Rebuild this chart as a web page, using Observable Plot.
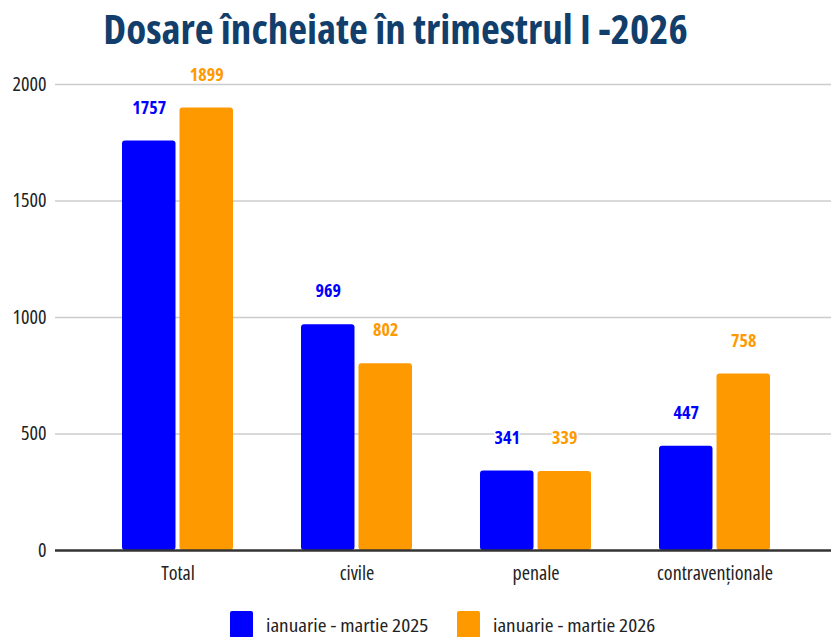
<!DOCTYPE html>
<html>
<head>
<meta charset="utf-8">
<script src="https://cdn.jsdelivr.net/npm/d3@7"></script>
<script src="https://cdn.jsdelivr.net/npm/@observablehq/plot@0.6"></script>
<style>
  html, body { margin: 0; padding: 0; background: #fff; }
  body { width: 831px; height: 637px; overflow: hidden; font-family: "Open Sans", sans-serif; }
  #title { height: 60px; line-height: 56px; text-align: center; font-size: 41px; font-weight: 700; color: #123e6b; padding-right: 40px; box-sizing: border-box; font-stretch: 75%; }
  svg text { font-stretch: 75%; }
  #legend { display: flex; justify-content: flex-start; margin-top: 21px; padding-left: 230px; font-stretch: 75%; }
  .item { display: flex; align-items: center; font-size: 18px; color: #222; }
  .item:first-child { width: 227px; }
  .sw { width: 23px; height: 27px; border-radius: 2px; margin-right: 13px; flex: none; }
  .item span { display: inline-block; transform: scaleX(1.18); transform-origin: left center; white-space: nowrap; }
</style>
</head>
<body>
<div id="title">Dosare încheiate în trimestrul I -2026</div>
<div id="chart"></div>
<div id="legend"></div>
<script>
const categories = ["Total", "civile", "penale", "contravenționale"];
const series = ["ianuarie - martie 2025", "ianuarie - martie 2026"];
const values2025 = [1757, 969, 341, 447];
const values2026 = [1899, 802, 339, 758];
const colors = ["#0000ff", "#ff9900"];
const yTicks = [0, 500, 1000, 1500, 2000];

const W = 831, ML = 55, MR = 0, PI = 0.38, PO = 0.357, AL = 0.52, GAP = 4;
const bw = d3.scaleBand(categories, [ML, W - MR]).paddingInner(PI).paddingOuter(PO).align(AL).bandwidth();
const half = bw / 2 + GAP / 2;

const d2025 = categories.map((c, i) => ({cat: c, value: values2025[i]}));
const d2026 = categories.map((c, i) => ({cat: c, value: values2026[i]}));

const labelStyle = {fontWeight: "bold", fontSize: 18, stroke: "white", strokeWidth: 3, paintOrder: "stroke", dy: -33};

const chart = Plot.plot({
  width: W,
  height: 530,
  marginLeft: ML,
  marginRight: MR,
  marginTop: 24,
  marginBottom: 40,
  style: {fontFamily: "'Open Sans', sans-serif", fontSize: "20px", color: "#222", background: "white"},
  x: {domain: categories, paddingInner: PI, paddingOuter: PO, align: AL, label: null, tickSize: 0, tickPadding: 15},
  y: {domain: [0, 2000], ticks: yTicks, tickFormat: d => String(d), tickSize: 0, tickPadding: 9, label: null},
  marks: [
    Plot.ruleY(yTicks.filter(d => d > 0), {stroke: "#cccccc", strokeWidth: 1.5}),
    Plot.barY(d2025, {x: "cat", y: "value", fill: colors[0], insetRight: half, rx: 3}),
    Plot.barY(d2026, {x: "cat", y: "value", fill: colors[1], insetLeft: half, rx: 3}),
    Plot.ruleY([0], {stroke: "#333", strokeWidth: 2.5}),
    Plot.text(d2025, {x: "cat", y: "value", text: d => String(d.value), fill: colors[0], dx: -(bw / 4 + GAP / 4), ...labelStyle}),
    Plot.text(d2026, {x: "cat", y: "value", text: d => String(d.value), fill: colors[1], dx: (bw / 4 + GAP / 4), ...labelStyle})
  ]
});
document.getElementById("chart").appendChild(chart);

const legend = document.getElementById("legend");
series.forEach((s, i) => {
  const item = document.createElement("div");
  item.className = "item";
  const sw = document.createElement("div");
  sw.className = "sw";
  sw.style.background = colors[i];
  const t = document.createElement("span");
  t.textContent = s;
  item.appendChild(sw);
  item.appendChild(t);
  legend.appendChild(item);
});
</script>
</body>
</html>
